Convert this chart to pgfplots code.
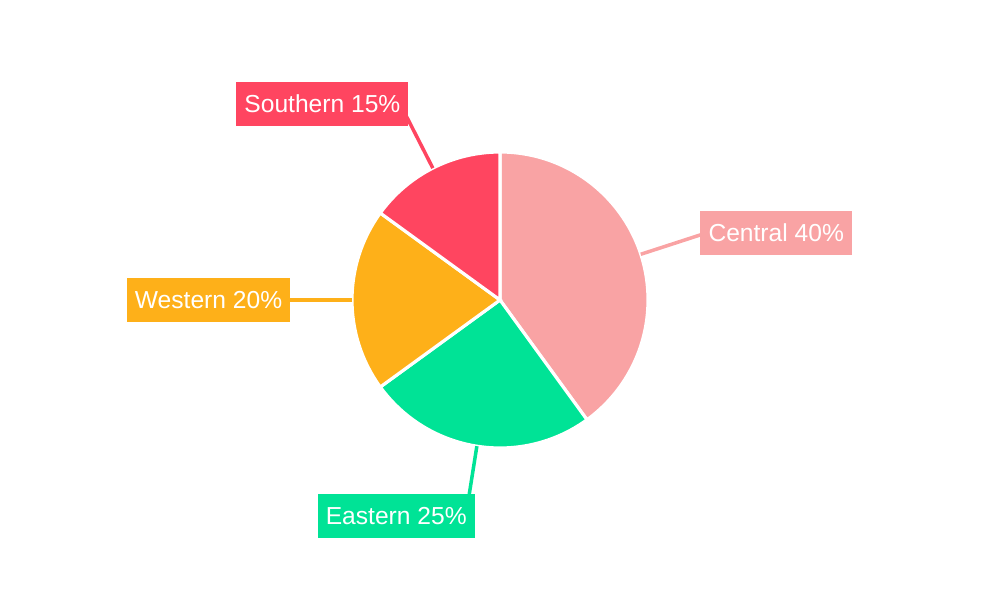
\documentclass[border=0pt]{standalone}
\usepackage{pgfplots}
\usepackage{pgfplotstable}
\pgfplotsset{compat=1.18}
\usepackage{fontspec}
\setmainfont{Liberation Sans}
\definecolor{cCentral}{HTML}{F9A3A4}
\definecolor{cEastern}{HTML}{00E396}
\definecolor{cWestern}{HTML}{FEB019}
\definecolor{cSouthern}{HTML}{FF4560}
\pgfplotstableread{
label value
Central 40
Eastern 25
Western 20
Southern 15
}\piedata
\begin{document}
\begin{tikzpicture}
\useasboundingbox (0,0) rectangle (10,6);
\pgfplotstablegetelem{0}{value}\of\piedata \let\vA\pgfplotsretval
\pgfplotstablegetelem{1}{value}\of\piedata \let\vB\pgfplotsretval
\pgfplotstablegetelem{2}{value}\of\piedata \let\vC\pgfplotsretval
\pgfplotstablegetelem{3}{value}\of\piedata \let\vD\pgfplotsretval
\pgfmathsetmacro\aA{90}
\pgfmathsetmacro\aB{\aA-3.6*\vA}
\pgfmathsetmacro\aC{\aB-3.6*\vB}
\pgfmathsetmacro\aD{\aC-3.6*\vC}
\pgfmathsetmacro\aE{\aD-3.6*\vD}
\pgfmathsetmacro\mA{(\aA+\aB)/2}
\pgfmathsetmacro\mB{(\aB+\aC)/2}
\pgfmathsetmacro\mC{(\aC+\aD)/2}
\pgfmathsetmacro\mD{(\aD+\aE)/2}
\begin{axis}[
  at={(0,0)}, anchor=south west,
  x=1cm, y=1cm, scale only axis,
  xmin=0, xmax=10, ymin=0, ymax=6,
  hide axis, clip=false,
]
\addplot[draw=none] coordinates {(0,0) (10,6)};
\def\R{1.48cm}
\fill[cCentral, draw=white, line width=0.9pt] (axis cs:5,3) -- ++(\aA:\R) arc[start angle=\aA, end angle=\aB, radius=\R] -- cycle;
\fill[cEastern, draw=white, line width=0.9pt] (axis cs:5,3) -- ++(\aB:\R) arc[start angle=\aB, end angle=\aC, radius=\R] -- cycle;
\fill[cWestern, draw=white, line width=0.9pt] (axis cs:5,3) -- ++(\aC:\R) arc[start angle=\aC, end angle=\aD, radius=\R] -- cycle;
\fill[cSouthern, draw=white, line width=0.9pt] (axis cs:5,3) -- ++(\aD:\R) arc[start angle=\aD, end angle=\aE, radius=\R] -- cycle;
\tikzset{lbl/.style={fill=#1, text=white, font=\fontsize{7}{8}\selectfont, inner xsep=2.3pt, inner ysep=0pt, minimum height=12.5pt}}
\draw[cCentral, line width=1pt] (axis cs:5,3) ++(\mA:\R) -- ++(\mA:0.63cm) node[lbl=cCentral, anchor=west, xshift=-0.02cm, yshift=0.02cm] {Central \vA\%};
\draw[cEastern, line width=1pt] (axis cs:5,3) ++(\mB:\R) -- ++(\mB:0.63cm) node[lbl=cEastern, anchor=east, xshift=0.095cm, yshift=-0.08cm] {Eastern \vB\%};
\draw[cWestern, line width=1pt] (axis cs:5,3) ++(\mC:\R) -- ++(\mC:0.63cm) node[lbl=cWestern, anchor=east, xshift=0.03cm] {Western \vC\%};
\draw[cSouthern, line width=1pt] (axis cs:5,3) ++(\mD:\R) -- ++(\mD:0.63cm) node[lbl=cSouthern, anchor=east, xshift=0.06cm, yshift=0.08cm] {Southern \vD\%};
\end{axis}
\end{tikzpicture}
\end{document}
